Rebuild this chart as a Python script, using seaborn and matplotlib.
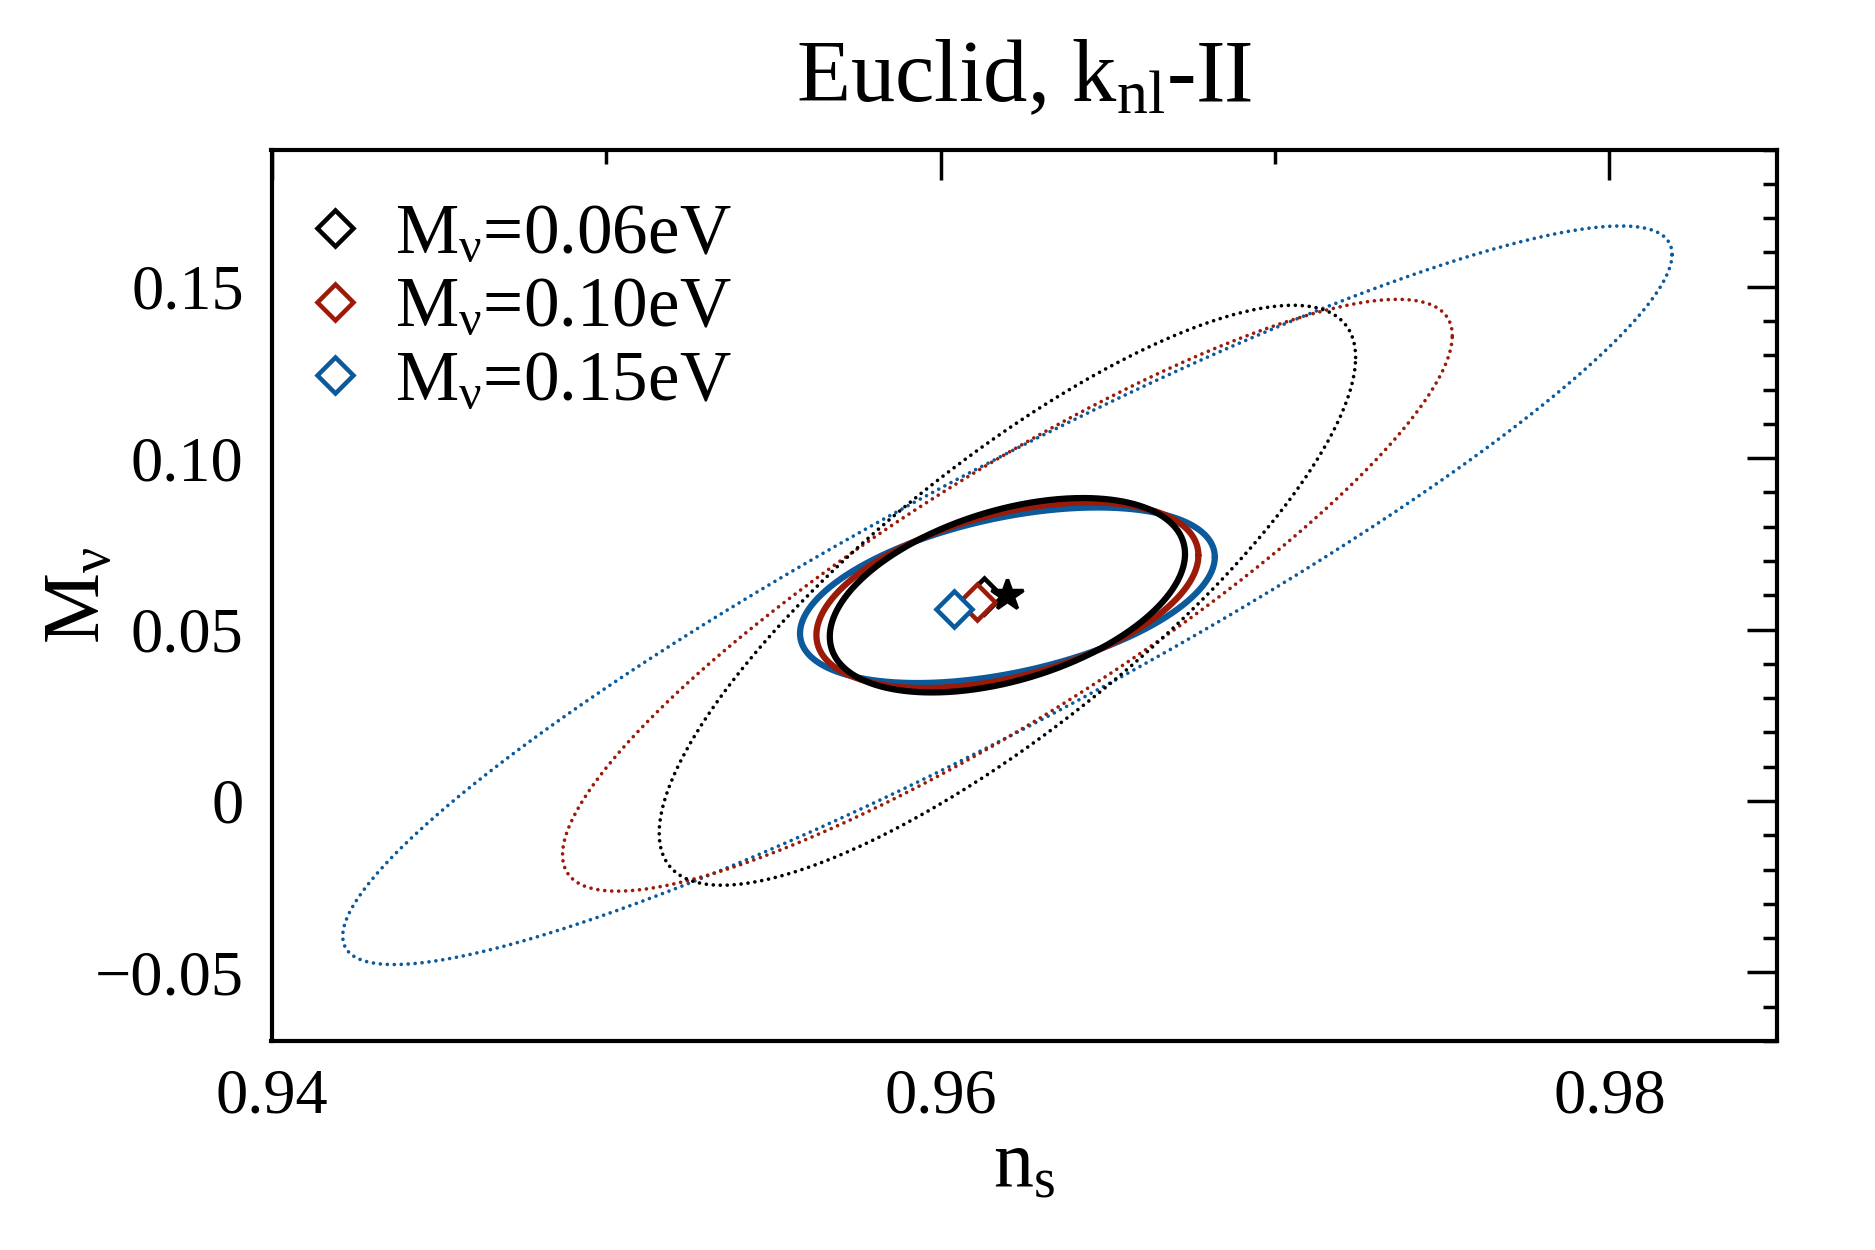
import numpy as np
import matplotlib
matplotlib.use("Agg")
import matplotlib.pyplot as plt
import seaborn as sns
from matplotlib.ticker import MultipleLocator, FuncFormatter

# ---------------- data ----------------
labels = [r"$\mathrm{M_{\nu}}$=0.06eV", r"$\mathrm{M_{\nu}}$=0.10eV", r"$\mathrm{M_{\nu}}$=0.15eV"]
colors = ["#000000", "#9b1a08", "#0a5a9c"]

fid_ns = 0.962          # fiducial (star) and common ellipse centre
fid_mnu = 0.060

bf_ns = [0.9613, 0.9611, 0.9604]    # diamond markers
bf_mnu = [0.0597, 0.0581, 0.0561]

# solid (small) ellipses: half-extent in x, half-extent in y, correlation
solid_hx = [0.00531, 0.00571, 0.00620]
solid_hy = [0.02835, 0.02706, 0.02560]
solid_rho = [0.425, 0.43, 0.435]

# dotted (large) ellipses
dot_hx = [0.01041, 0.01330, 0.01987]
dot_hy = [0.08457, 0.08630, 0.10770]
dot_rho = [0.820, 0.877, 0.923]

title = r"Euclid, $\mathrm{k_{nl}}$-II"
xlabel = r"$\mathrm{n_{s}}$"
ylabel = r"$\mathrm{M_{\nu}}$"

# ---------------- style ----------------
sns.set_style("white")
plt.rcParams["font.family"] = ["Liberation Serif", "DejaVu Serif"]
plt.rcParams["mathtext.fontset"] = "custom"
plt.rcParams["mathtext.rm"] = "Liberation Serif"
plt.rcParams["mathtext.it"] = "Liberation Serif:italic"
plt.rcParams["mathtext.bf"] = "Liberation Serif:bold"
plt.rcParams["axes.unicode_minus"] = True
plt.rcParams["text.color"] = "black"
plt.rcParams["axes.labelcolor"] = "black"
plt.rcParams["xtick.color"] = "black"
plt.rcParams["ytick.color"] = "black"


def ellipse(cx, cy, hx, hy, rho, n=721):
    t = np.linspace(0, 2 * np.pi, n)
    cov = np.array([[hx * hx, rho * hx * hy], [rho * hx * hy, hy * hy]])
    L = np.linalg.cholesky(cov)
    pts = L @ np.vstack([np.cos(t), np.sin(t)])
    return cx + pts[0], cy + pts[1]


fig = plt.figure(figsize=(7.5, 5), dpi=250)
ax = fig.add_axes([0.1448, 0.1672, 0.9476 - 0.1448, 0.8804 - 0.1672])

# dotted ellipses (blue under red under black)
for i in [2, 1, 0]:
    x, y = ellipse(fid_ns, fid_mnu, dot_hx[i], dot_hy[i], dot_rho[i])
    sns.lineplot(x=x, y=y, sort=False, estimator=None, ax=ax, color=colors[i],
                 lw=1.05, linestyle=(0, (0.01, 1.9)), dash_capstyle="round")

# solid ellipses
for i in [2, 1, 0]:
    x, y = ellipse(fid_ns, fid_mnu, solid_hx[i], solid_hy[i], solid_rho[i])
    sns.lineplot(x=x, y=y, sort=False, estimator=None, ax=ax, color=colors[i], lw=1.8)

# diamonds
for i in [0, 1, 2]:
    ax.plot([bf_ns[i]], [bf_mnu[i]], linestyle="none", marker="D", ms=7.2,
            mfc="white", mec=colors[i], mew=1.3, label=labels[i], zorder=5)

# fiducial star
ax.plot([fid_ns], [fid_mnu], linestyle="none", marker="*", ms=9.5, color="black", zorder=6)

ax.set_xlim(0.94, 0.985)
ax.set_ylim(-0.07, 0.19)

ax.xaxis.set_major_locator(MultipleLocator(0.02))
ax.xaxis.set_minor_locator(MultipleLocator(0.01))
ax.yaxis.set_major_locator(MultipleLocator(0.05))
ax.yaxis.set_minor_locator(MultipleLocator(0.01))
ax.xaxis.set_major_formatter(FuncFormatter(lambda v, p: f"{v:.2f}"))
ax.yaxis.set_major_formatter(FuncFormatter(
    lambda v, p: "0" if abs(v) < 1e-9 else f"{v:.2f}".replace("-", "\u2212")))

ax.tick_params(which="both", direction="in", top=True, right=True, colors="black")
ax.tick_params(which="major", length=8.5, width=1.0, labelsize=18.5, pad=8)
ax.tick_params(which="minor", length=4.0, width=1.0)
for s in ax.spines.values():
    s.set_linewidth(1.2)
    s.set_color("black")

ax.set_xlabel(xlabel, fontsize=23, labelpad=1)
ax.set_ylabel(ylabel, fontsize=23)
ax.yaxis.set_label_coords(-0.103, 0.5)
ax.set_title(title, fontsize=25.5, pad=14)

leg = ax.legend(loc="upper left", bbox_to_anchor=(-0.017, 1.0), frameon=False,
                fontsize=20.5, handlelength=1.0, handletextpad=0.35,
                labelspacing=0.12, borderaxespad=0.45, borderpad=0.3)

fig.savefig("out.png", dpi=250)
